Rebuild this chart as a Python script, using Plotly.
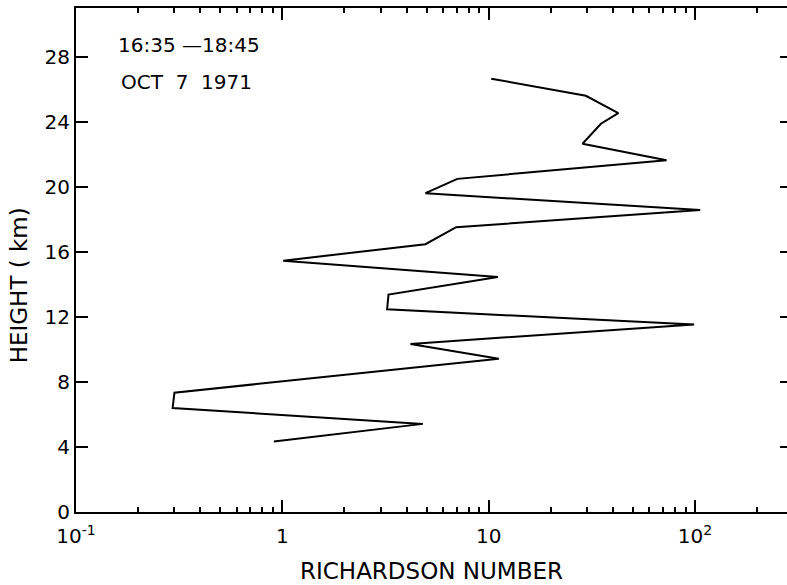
import plotly.graph_objects as go

# Data (height in km, Richardson number)
height_km = [4.33, 5.42, 6.40, 7.34, 9.43, 10.34, 11.53, 12.47, 13.37, 14.46, 15.46,
             16.47, 17.52, 18.57, 19.61, 20.49, 21.64, 22.65, 23.88, 24.54, 25.6, 26.65]
richardson = [0.91, 4.8, 0.294, 0.30, 11.2, 4.18, 99.0, 3.22, 3.27, 11.1, 1.01,
              4.94, 6.96, 106.0, 4.94, 7.05, 72.8, 28.5, 35.0, 42.5, 29.6, 10.3]

x_tickvals = [0.1, 1, 10, 100]
x_ticktext = ["10<sup>-1</sup>", "1", "10", "10<sup>2</sup>"]
x_minor = [0.2, 0.3, 0.4, 0.5, 0.6, 0.7, 0.8, 0.9,
           2, 3, 4, 5, 6, 7, 8, 9,
           20, 30, 40, 50, 60, 70, 80, 90, 200]
y_tickvals = [0, 4, 8, 12, 16, 20, 24, 28]
y_ticktext = ["0", "4", "8", "12", "16", "20", "24", "28"]

FONT = "DejaVu Sans"

fig = go.Figure()
fig.add_trace(go.Scatter(x=richardson, y=height_km, mode="lines",
                         line=dict(color="black", width=2), showlegend=False,
                         hoverinfo="skip"))
# invisible copy on the right-hand axis so its ticks are drawn
fig.add_trace(go.Scatter(x=richardson, y=height_km, mode="lines", yaxis="y2",
                         line=dict(color="black", width=2), opacity=0,
                         showlegend=False, hoverinfo="skip"))

fig.update_layout(
    width=787, height=585,
    margin=dict(l=76, r=0, t=8, b=73),
    paper_bgcolor="white", plot_bgcolor="white",
    font=dict(family=FONT, color="black"),
    xaxis=dict(
        type="log", range=[-1, 2.446],
        tickvals=x_tickvals, ticktext=x_ticktext,
        ticks="inside", ticklen=12, tickwidth=2, tickcolor="black",
        ticklabelstandoff=5,
        minor=dict(tickvals=x_minor, ticks="inside", ticklen=5, tickwidth=1.5,
                   tickcolor="black", showgrid=False),
        showline=True, linecolor="black", linewidth=2, mirror="ticks",
        showgrid=False, zeroline=False,
        tickfont=dict(size=20, family=FONT),
        title=dict(text="RICHARDSON NUMBER", font=dict(size=23, family=FONT),
                   standoff=16),
    ),
    yaxis=dict(
        range=[0, 31],
        tickvals=y_tickvals, ticktext=y_ticktext,
        ticks="inside", ticklen=12, tickwidth=2, tickcolor="black",
        showline=True, linecolor="black", linewidth=2,
        showgrid=False, zeroline=False,
        tickfont=dict(size=20, family=FONT),
    ),
    yaxis2=dict(
        range=[0, 31], overlaying="y", side="right",
        tickvals=y_tickvals, ticks="inside", ticklen=7, tickwidth=2,
        tickcolor="black", showticklabels=False, showline=False,
        showgrid=False, zeroline=False,
    ),
    annotations=[
        dict(text="16:35 \u201418:45", xref="paper", yref="paper",
             x=0.056, y=0.927, xanchor="left", yanchor="middle",
             showarrow=False, font=dict(size=20, family=FONT)),
        dict(text="OCT  7  1971", xref="paper", yref="paper",
             x=0.061, y=0.853, xanchor="left", yanchor="middle",
             showarrow=False, font=dict(size=20, family=FONT)),
        dict(text="HEIGHT ( km)", xref="paper", yref="paper",
             x=-0.080, y=0.45, xanchor="center", yanchor="middle",
             textangle=-90, showarrow=False, font=dict(size=23, family=FONT)),
    ],
)

fig.write_html("out.html")
